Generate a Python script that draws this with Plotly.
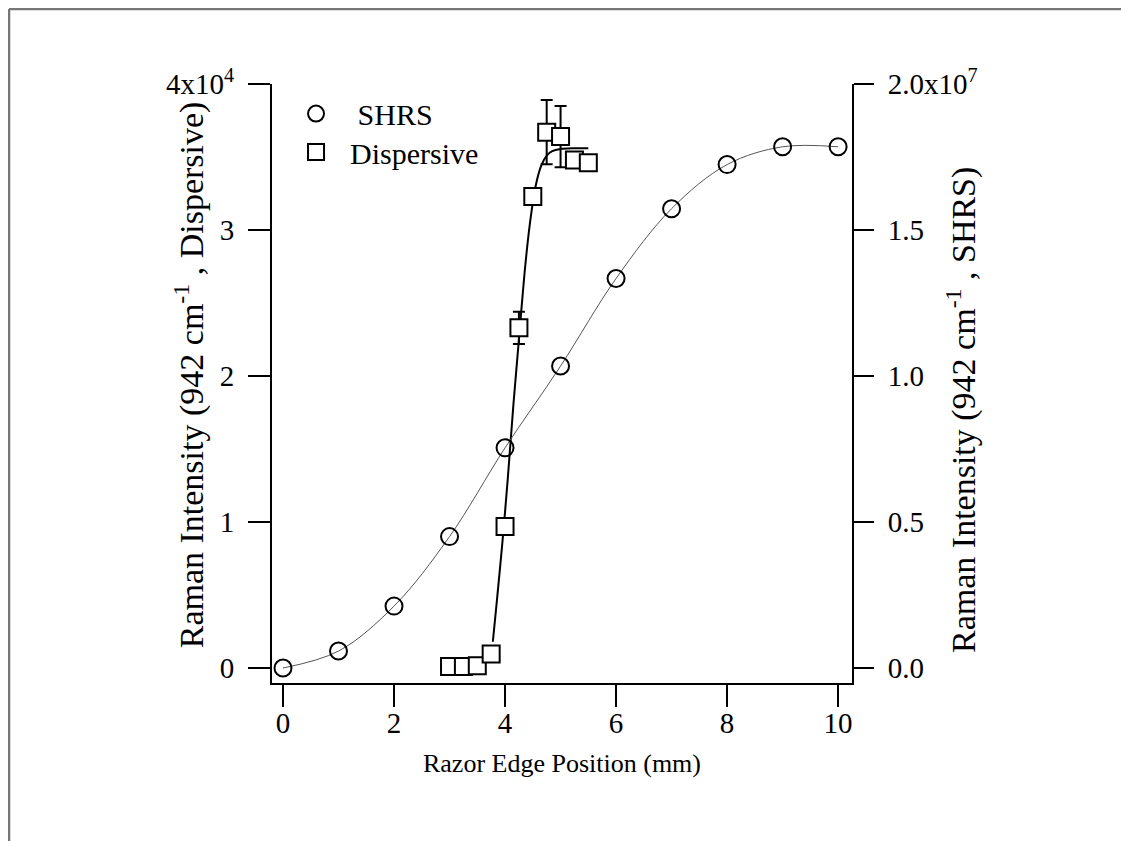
import plotly.graph_objects as go

# ---- data ----
shrs_x = [0, 1, 2, 3, 4, 5, 6, 7, 8, 9, 10]
shrs_y = [0.0, 0.058e7, 0.212e7, 0.45e7, 0.754e7, 1.034e7, 1.334e7, 1.573e7, 1.724e7, 1.785e7, 1.785e7]

disp_x = [3.0, 3.25, 3.5, 3.75, 4.0, 4.25, 4.5, 4.75, 5.0, 5.25, 5.5]
disp_y = [100, 100, 150, 960, 9700, 23300, 32300, 36700, 36400, 34800, 34600]
disp_err = [0, 0, 0, 0, 0, 1100, 0, 2200, 2100, 0, 0]

fit_x = [3.78, 3.85, 3.95, 4.05, 4.15, 4.25, 4.35, 4.45, 4.55, 4.65, 4.75, 4.85, 5.0, 5.2, 5.5]
fit_y = [1800, 4500, 8500, 13000, 18000, 22500, 27000, 30500, 33000, 34400, 35100, 35400, 35550, 35600, 35600]

x_ticks = [0, 2, 4, 6, 8, 10]
left_tickvals = [0, 10000, 20000, 30000, 40000]
left_ticktext = ["0", "1", "2", "3", "4x10<sup>4</sup>"]
right_tickvals = [0, 0.5e7, 1.0e7, 1.5e7, 2.0e7]
right_ticktext = ["0.0", "0.5", "1.0", "1.5", "2.0x10<sup>7</sup>"]

x_title = "Razor Edge Position (mm)"
left_title = "Raman Intensity (942 cm<sup>-1</sup> , Dispersive)"
right_title = "Raman Intensity (942 cm<sup>-1</sup> , SHRS)"

FONT = "Liberation Serif, Times New Roman, serif"

fig = go.Figure()

# fitted curves
fig.add_trace(go.Scatter(x=shrs_x, y=shrs_y, mode="lines", yaxis="y2",
                         line=dict(color="#555555", width=1, shape="spline", smoothing=1.0),
                         showlegend=False, hoverinfo="skip"))
fig.add_trace(go.Scatter(x=fit_x, y=fit_y, mode="lines",
                         line=dict(color="black", width=2, shape="spline", smoothing=0.8),
                         showlegend=False, hoverinfo="skip"))

# markers
fig.add_trace(go.Scatter(x=shrs_x, y=shrs_y, mode="markers", yaxis="y2", name="&nbsp;SHRS",
                         legend="legend",
                         marker=dict(symbol="circle-open", size=17, color="black",
                                     line=dict(color="black", width=2))))
fig.add_trace(go.Scatter(x=disp_x, y=disp_y, mode="markers", name="Dispersive",
                         legend="legend2",
                         error_y=dict(type="data", array=disp_err, visible=True,
                                      color="black", thickness=2, width=6),
                         marker=dict(symbol="square", size=17, color="white",
                                     line=dict(color="black", width=2))))

legend_common = dict(xanchor="left", yanchor="top", bgcolor="rgba(0,0,0,0)",
                     font=dict(size=30, family=FONT), itemsizing="trace", itemwidth=58)

fig.update_layout(
    width=1121, height=833,
    paper_bgcolor="white", plot_bgcolor="white",
    margin=dict(l=264, r=277, t=76, b=158),
    font=dict(family=FONT, size=30, color="black"),
    showlegend=True,
    legend=dict(x=0.0173, y=0.994, **legend_common),
    legend2=dict(x=0.0173, y=0.93, **legend_common),
    xaxis=dict(range=[-0.198, 10.25], tickvals=x_ticks, ticks="outside", ticklen=22,
               tickwidth=2, tickcolor="black", showline=True, linecolor="black", linewidth=2,
               showgrid=False, zeroline=False, mirror=False, ticklabelstandoff=-9,
               title=dict(text=x_title, font=dict(size=26), standoff=16),
               tickfont=dict(size=29)),
    yaxis=dict(range=[-1027, 40000], tickvals=left_tickvals, ticktext=left_ticktext,
               ticks="outside", ticklen=22, tickwidth=2, tickcolor="black",
               showline=True, linecolor="black", linewidth=2, showgrid=False, zeroline=False,
               ticklabelstandoff=8, tickfont=dict(size=29)),
    yaxis2=dict(range=[-513500, 2.0e7], tickvals=right_tickvals, ticktext=right_ticktext,
                overlaying="y", side="right",
                ticks="outside", ticklen=20, tickwidth=2, tickcolor="black",
                showline=True, linecolor="black", linewidth=2, showgrid=False, zeroline=False,
                ticklabelstandoff=8, tickfont=dict(size=29)),
)

# y-axis titles placed as rotated text
fig.add_annotation(text=left_title, xref="paper", yref="paper", x=-0.1431, y=0.5137,
                   textangle=-90, showarrow=False, font=dict(size=34, family=FONT),
                   xanchor="center", yanchor="middle")
fig.add_annotation(text=right_title, xref="paper", yref="paper", x=1.1897, y=0.4558,
                   textangle=-90, showarrow=False, font=dict(size=34, family=FONT),
                   xanchor="center", yanchor="middle")

# page frame lines (top and left)
fig.add_shape(type="line", xref="paper", yref="paper", x0=-0.4534, x1=1.5, y0=1.1252, y1=1.1252,
              line=dict(color="#777777", width=2.5))
fig.add_shape(type="line", xref="paper", yref="paper", x0=-0.4534, x1=-0.4534, y0=1.1252, y1=-0.3,
              line=dict(color="#777777", width=2.5))

fig.write_html("out.html")
